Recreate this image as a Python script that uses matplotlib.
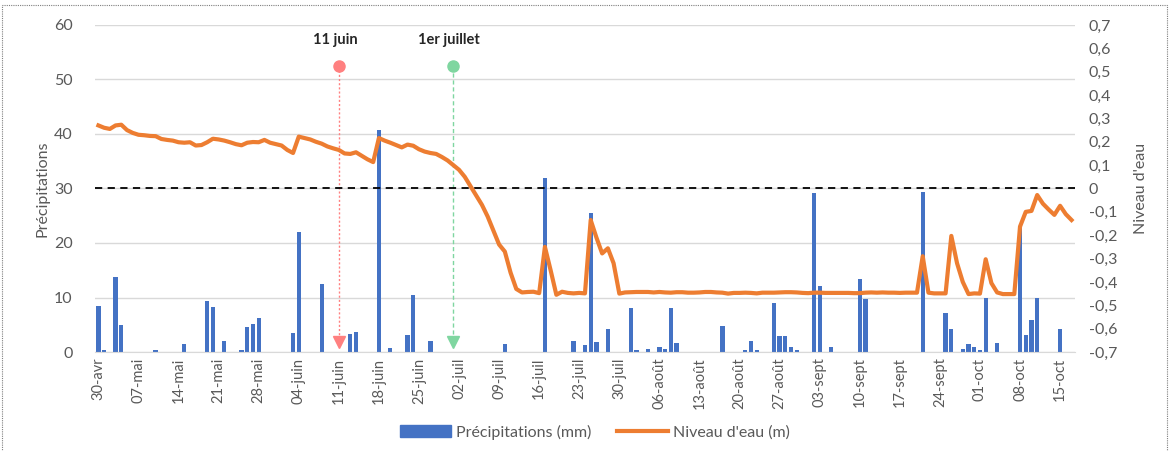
import numpy as np
import matplotlib
matplotlib.use("Agg")
import matplotlib.pyplot as plt
from matplotlib.patches import Patch, Rectangle
from matplotlib.lines import Line2D

plt.rcParams['font.family'] = ['Lato', 'DejaVu Sans']

# x labels every 7 days, starting 30-avr (day 0)
tick_labels = ['30-avr', '07-mai', '14-mai', '21-mai', '28-mai', '04-juin',
               '11-juin', '18-juin', '25-juin', '02-juil', '09-juil', '16-juil',
               '23-juil', '30-juil', '06-août', '13-août', '20-août', '27-août',
               '03-sept', '10-sept', '17-sept', '24-sept', '01-oct', '08-oct',
               '15-oct']

# precipitation (mm), day offset from 30-avr
rain_days = [0, 1, 3, 4, 10, 15, 19, 20, 22, 25, 26, 27, 28,
             34, 35, 39, 44, 45, 49, 51, 54, 55, 58,
             71, 78, 83, 85, 86, 87, 89, 93, 94, 96, 98, 99, 100, 101,
             109, 113, 114, 115, 118, 119, 120, 121, 122, 125, 126, 128,
             133, 134, 144, 148, 149, 151, 152, 153, 154, 155, 157,
             161, 162, 163, 164, 168]
rain_mm = [8.4, 0.3, 13.7, 4.9, 0.4, 1.4, 9.3, 8.3, 2.1, 0.3, 4.5, 5.2, 6.3,
           3.4, 22.0, 12.4, 3.3, 3.6, 40.7, 0.8, 3.1, 10.4, 2.1,
           1.5, 32.0, 2.1, 1.3, 25.5, 1.8, 4.3, 8.1, 0.3, 0.5, 0.9, 0.5, 8.1, 1.6,
           4.7, 0.3, 2.1, 0.3, 8.9, 3.0, 3.0, 0.9, 0.3, 29.1, 12.2, 0.9,
           13.4, 9.7, 29.3, 7.2, 4.3, 0.5, 1.4, 0.9, 0.4, 9.9, 1.7,
           22.8, 3.2, 5.8, 10.0, 4.2]

# water level (m), one value per day from 30-avr to 17-oct
level = [0.270, 0.260, 0.255, 0.270, 0.273, 0.250, 0.238, 0.230, 0.228, 0.225,
         0.224, 0.212, 0.208, 0.205, 0.198, 0.196, 0.198, 0.184, 0.186, 0.198,
         0.213, 0.210, 0.205, 0.198, 0.190, 0.185, 0.196, 0.199, 0.198, 0.208,
         0.196, 0.190, 0.184, 0.165, 0.152, 0.222, 0.216, 0.210, 0.200, 0.192,
         0.180, 0.172, 0.165, 0.150, 0.148, 0.155, 0.140, 0.125, 0.113, 0.216,
         0.205, 0.196, 0.186, 0.176, 0.188, 0.183, 0.168, 0.158, 0.152, 0.148,
         0.135, 0.120, 0.100, 0.080, 0.050, 0.010, -0.030, -0.070, -0.120, -0.180,
         -0.240, -0.270, -0.360, -0.430, -0.445, -0.443, -0.442, -0.448, -0.250, -0.350,
         -0.455, -0.442, -0.447, -0.449, -0.447, -0.449, -0.135, -0.210, -0.278, -0.256,
         -0.320, -0.450, -0.445, -0.444, -0.443, -0.443, -0.443, -0.445, -0.443, -0.445,
         -0.446, -0.444, -0.444, -0.446, -0.446, -0.445, -0.443, -0.443, -0.445, -0.446,
         -0.450, -0.447, -0.447, -0.446, -0.447, -0.449, -0.446, -0.446, -0.446, -0.445,
         -0.444, -0.444, -0.445, -0.447, -0.448, -0.446, -0.446, -0.447, -0.447, -0.447,
         -0.447, -0.447, -0.448, -0.448, -0.446, -0.445, -0.446, -0.445, -0.446, -0.446,
         -0.447, -0.446, -0.446, -0.446, -0.290, -0.446, -0.449, -0.449, -0.449, -0.203,
         -0.320, -0.400, -0.452, -0.449, -0.450, -0.303, -0.405, -0.445, -0.452, -0.452,
         -0.452, -0.163, -0.100, -0.096, -0.028, -0.065, -0.090, -0.113, -0.074, -0.110,
         -0.135]

# events marked on chart
event_days = [42, 62]
event_labels = ['11 juin', '1er juillet']
event_colors = ['#FF8080', '#7FD6A0']
event_styles = [(0, (1.5, 1.5)), (0, (3, 2))]

days = np.arange(len(level))
gray = '#595959'

fig = plt.figure(figsize=(11.71, 4.51), dpi=100)
ax = fig.add_axes([0.0811, 0.2195, 0.8369, 0.7251])
ax2 = ax.twinx()

ax.bar(rain_days, rain_mm, width=0.75, color='#4472C4', zorder=2)
ax.set_ylim(0, 60)
ax.set_yticks(range(0, 61, 10))
ax.set_xlim(-0.6, 170.6)
ax.set_xticks(range(0, 169, 7))
ax.set_xticklabels(tick_labels, rotation=90, fontsize=10.5, color=gray)
ax.grid(axis='y', color='#D9D9D9', linewidth=1, zorder=0)
ax.set_axisbelow(True)
ax.tick_params(axis='y', length=0, labelsize=11.5, labelcolor=gray, pad=16)
ax.tick_params(axis='x', length=0, pad=4)
ax.set_ylabel('Précipitations', fontsize=11.5, color=gray, labelpad=3)

ax2.axhline(0, color='black', linestyle=(0, (4, 3)), linewidth=1.3)
ax2.plot(days, level, color='#ED7D31', linewidth=3.0, solid_joinstyle='round')
ax2.set_ylim(-0.7, 0.7)
rt = np.round(np.arange(-0.7, 0.71, 0.1), 1)
ax2.set_yticks(rt)
ax2.set_yticklabels(['0' if v == 0 else f'{v:.1f}'.replace('.', ',') for v in rt])
ax2.tick_params(axis='y', length=0, labelsize=11.5, labelcolor=gray, pad=10)
ax2.set_ylabel("Niveau d'eau", fontsize=11.5, color=gray, labelpad=12)

for a in (ax, ax2):
    for s in a.spines.values():
        s.set_visible(False)
ax.spines['bottom'].set_visible(True)
ax.spines['bottom'].set_color('#D9D9D9')

for d, lab, c, ls in zip(event_days, event_labels, event_colors, event_styles):
    ax.plot([d, d], [52.5, 2.5], color=c, linestyle=ls, linewidth=1, zorder=3)
    ax.plot(d, 52.5, marker='o', markersize=8, color=c, zorder=4)
    ax.plot(d, 1.8, marker='v', markersize=8, color=c, zorder=4)
    ax.text(d - 0.7, 57.2, lab, ha='center', va='center', fontsize=10.5,
            fontweight='bold', color='#262626')

handles = [Patch(color='#4472C4'), Line2D([0], [0], color='#ED7D31', linewidth=3.0)]
fig.legend(handles, ['Précipitations (mm)', "Niveau d'eau (m)"], ncol=2,
           loc='center', bbox_to_anchor=(0.508, 0.042), frameon=False,
           fontsize=11.5, labelcolor=gray, handlelength=3.2, handletextpad=0.3,
           columnspacing=1.6)

fig.add_artist(Rectangle((0.002, -0.02), 0.995, 1.01, transform=fig.transFigure,
                         fill=False, edgecolor='#7F7F7F', linestyle=(0, (1, 1)),
                         linewidth=0.8))

fig.savefig('out.png', dpi=100)
